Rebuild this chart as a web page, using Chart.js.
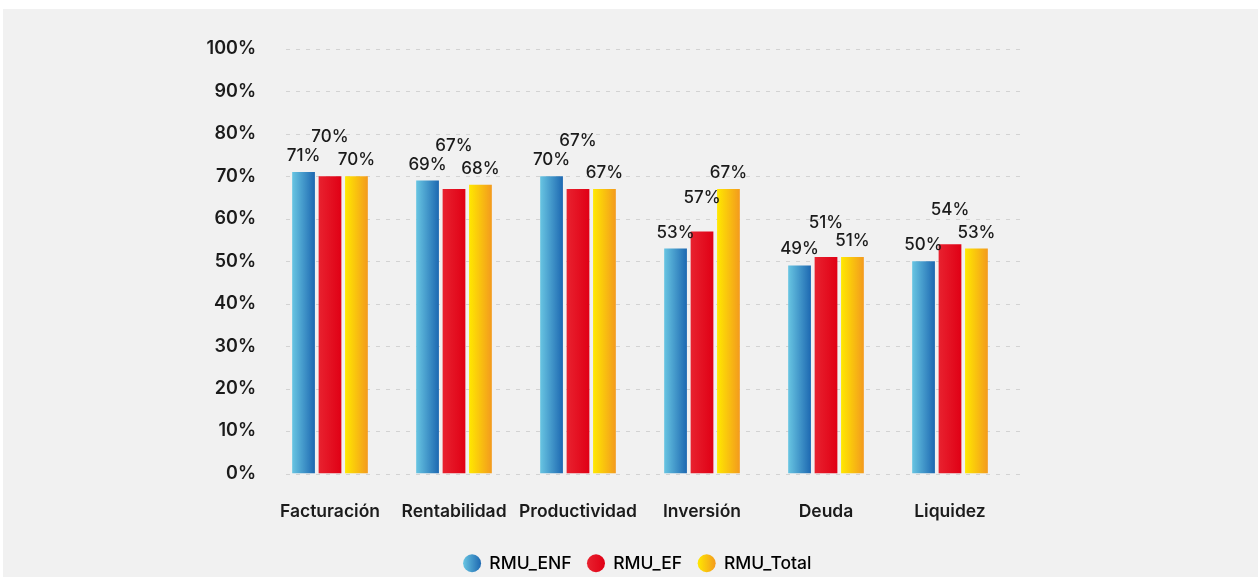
<!DOCTYPE html>
<html>
<head>
<meta charset="utf-8">
<script src="https://cdn.jsdelivr.net/npm/chart.js@4.4.1/dist/chart.umd.min.js"></script>
<style>
  html, body { margin: 0; padding: 0; background: #ffffff; }
  #frame {
    position: absolute;
    left: 3px;
    top: 9px;
    width: 1255px;
    height: 568px;
    overflow: hidden;
    background: #f1f1f1;
  }
</style>
</head>
<body>
<div id="frame"><canvas id="resultsChart" width="1255" height="573"></canvas></div>
<script>

const categories = ["Facturación", "Rentabilidad", "Productividad", "Inversión", "Deuda", "Liquidez"];

const seriesNames = ["RMU_ENF", "RMU_EF", "RMU_Total"];

const rmuEnf   = [71, 69, 70, 53, 49, 50];
const rmuEf    = [70, 67, 67, 57, 51, 54];
const rmuTotal = [70, 68, 67, 67, 51, 53];

const yTicks = [0, 10, 20, 30, 40, 50, 60, 70, 80, 90, 100];

// left -> right colour stops of each series
const gradientStops = [
    ["#68c5e2", "#1d68b1"],
    ["#e8222f", "#e00015"],
    ["#ffe800", "#f39a1e"]
];

const CAT_PCT = 0.64;
const BAR_PCT = 0.86;
const FONT = "Inter, 'Open Sans', sans-serif";
const TEXT = "#1b1b1b";

function barGradient(stops){

    return ctx => {

        const chart = ctx.chart;
        const xs = chart.scales.x;

        if(ctx.type !== "data" || !xs){
            return stops[0];
        }

        const center = xs.getPixelForValue(ctx.dataIndex);
        const catWidth = (xs.right - xs.left) / categories.length;
        const slot = catWidth * CAT_PCT / seriesNames.length;
        const half = slot * BAR_PCT / 2;
        const cx = center + (ctx.datasetIndex - 1) * slot;

        const g = chart.ctx.createLinearGradient(cx - half, 0, cx + half, 0);
        g.addColorStop(0, stops[0]);
        g.addColorStop(1, stops[1]);
        return g;
    };

}

// dashed horizontal guides, a bit inset from the category band
const dashedGrid = {
    id: "dashedGrid",
    beforeDatasetsDraw(chart){

        const {ctx, chartArea, scales} = chart;

        ctx.save();
        ctx.strokeStyle = "#d3d3d3";
        ctx.lineWidth = 1;
        ctx.setLineDash([4, 6]);

        yTicks.forEach(v=>{
            const y = Math.round(scales.y.getPixelForValue(v)) + 0.5;
            ctx.beginPath();
            ctx.moveTo(chartArea.left + 18, y);
            ctx.lineTo(chartArea.right + 8, y);
            ctx.stroke();
        });

        ctx.restore();
    }
};

// percentage above each bar; the middle series sits higher and
// steps over its neighbours' labels when they would touch
const LABEL_SIZE = 17;
const CAP = 13;

const valueLabels = {
    id: "valueLabels",
    afterDatasetsDraw(chart){

        const ctx = chart.ctx;
        const metas = chart.data.datasets.map((ds, di) => chart.getDatasetMeta(di));

        ctx.save();
        ctx.font = "500 " + LABEL_SIZE + "px " + FONT;
        ctx.fillStyle = TEXT;
        ctx.textAlign = "center";
        ctx.textBaseline = "alphabetic";

        categories.forEach((cat, i)=>{

            const outer = [0, 2].map(di => ({
                di: di,
                x: metas[di].data[i].x,
                y: metas[di].data[i].y - 11
            }));

            const mid = metas[1].data[i];
            let midY = mid.y - 29;

            outer.forEach(o=>{
                const top = o.y - CAP;
                if(midY > top - 4 && midY - CAP < o.y + 4){
                    midY = Math.min(midY, top - 6);
                }
            });

            outer.forEach(o=>{
                ctx.fillText(chart.data.datasets[o.di].data[i] + "%", o.x, o.y);
            });
            ctx.fillText(chart.data.datasets[1].data[i] + "%", mid.x, midY);
        });

        ctx.restore();
    }
};

// round gradient markers for the legend entries
const legendDots = {
    id: "legendDots",
    afterDraw(chart){

        const legend = chart.legend;
        if(!legend || !legend.legendHitBoxes){
            return;
        }

        const ctx = chart.ctx;
        const box = legend.options.labels.boxWidth;

        ctx.save();
        legend.legendHitBoxes.forEach((hb, i)=>{
            const cx = hb.left + box / 2;
            const cy = hb.top + hb.height / 2;
            const r = 9;
            const g = ctx.createLinearGradient(cx - r, 0, cx + r, 0);
            g.addColorStop(0, gradientStops[i][0]);
            g.addColorStop(1, gradientStops[i][1]);
            ctx.fillStyle = g;
            ctx.beginPath();
            ctx.arc(cx, cy, r, 0, Math.PI * 2);
            ctx.fill();
        });
        ctx.restore();
    }
};

const seriesValues = [rmuEnf, rmuEf, rmuTotal];

const datasets = seriesNames.map((name, i)=>({
    label: name,
    data: seriesValues[i],
    backgroundColor: barGradient(gradientStops[i]),
    borderWidth: 0,
    categoryPercentage: CAT_PCT,
    barPercentage: BAR_PCT
}));

new Chart(
    document.getElementById("resultsChart"),
    {
        type: "bar",
        data: {
            labels: categories,
            datasets: datasets
        },
        options: {
            responsive: false,
            animation: false,
            layout: {
                padding: {top: 40, right: 0, left: 14, bottom: 0}
            },
            scales: {
                x: {
                    grid: {display: false, drawTicks: false},
                    border: {display: false},
                    ticks: {
                        padding: 28,
                        color: TEXT,
                        font: {family: FONT, size: 17.5, weight: "600"}
                    },
                    afterFit: s => { s.height = 65; }
                },
                y: {
                    min: 0,
                    max: 100,
                    afterBuildTicks: s => { s.ticks = yTicks.map(v => ({value: v})); },
                    grid: {display: false, drawTicks: false},
                    border: {display: false},
                    ticks: {
                        padding: 12,
                        color: TEXT,
                        font: {family: FONT, size: 18, weight: "600"},
                        callback: v => v + "%"
                    },
                    afterFit: s => { s.width = 251; }
                },
                // empty band on the right keeps the plot narrower than the legend row
                side: {
                    type: "linear",
                    position: "right",
                    display: true,
                    grid: {display: false, drawTicks: false},
                    border: {display: false},
                    ticks: {display: false},
                    afterFit: s => { s.width = 246; }
                }
            },
            plugins: {
                legend: {
                    position: "bottom",
                    labels: {
                        boxWidth: 17,
                        boxHeight: 17,
                        padding: 16,
                        color: TEXT,
                        font: {family: FONT, size: 17.5, weight: "500"},
                        generateLabels: chart => chart.data.datasets.map((ds, i)=>({
                            text: ds.label,
                            fillStyle: "rgba(0,0,0,0)",
                            strokeStyle: "rgba(0,0,0,0)",
                            lineWidth: 0,
                            datasetIndex: i
                        }))
                    }
                },
                tooltip: {enabled: false}
            }
        },
        plugins: [dashedGrid, valueLabels, legendDots]
    }
);

</script>
</body>
</html>
